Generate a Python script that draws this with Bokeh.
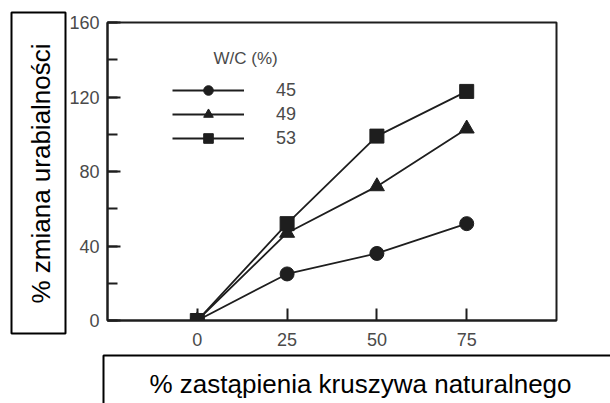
from bokeh.plotting import figure
from bokeh.models import (Label, Legend, LegendItem, SingleIntervalTicker,
                          FixedTicker)
from bokeh.core.properties import value
from bokeh.embed import file_html
from bokeh.resources import INLINE

# replacement level of natural aggregate (%)
replacement = [0, 25, 50, 75]
# workability change (%) for each water/cement ratio
wc_45 = [0, 25, 36, 52]
wc_49 = [0, 47, 72, 103]
wc_53 = [0, 52, 99, 123]
series_labels = ["45", "49", "53"]
legend_heading = "W/C (%)"
x_title = "% zastąpienia kruszywa naturalnego"
y_title = "% zmiana urabialności"

FONT = "Liberation Sans"
TICK_COLOR = "#4a4a4a"
INK = "#1e1e1e"

W, H = 610, 403
BORDER_L, BORDER_R, BORDER_T, BORDER_B = 107, 54, 22, 83
X_RANGE = (-25, 100)
Y_RANGE = (0, 160)

p = figure(width=W, height=H, x_range=X_RANGE, y_range=Y_RANGE,
           output_backend="svg", toolbar_location=None,
           min_border_left=BORDER_L, min_border_right=BORDER_R,
           min_border_top=BORDER_T, min_border_bottom=BORDER_B)
p.xgrid.visible = False
p.ygrid.visible = False
p.outline_line_color = INK
p.outline_line_width = 2
p.outline_line_alpha = 1
p.background_fill_color = "white"
p.border_fill_color = "white"

for ax in (p.xaxis[0], p.yaxis[0]):
    ax.axis_line_color = INK
    ax.axis_line_width = 2
    ax.major_tick_line_color = INK
    ax.major_tick_line_width = 2
    ax.minor_tick_line_color = INK
    ax.minor_tick_line_width = 2
    ax.major_tick_out = 0
    ax.minor_tick_out = 0
    ax.major_label_text_font = FONT
    ax.major_label_text_font_size = "18px"
    ax.major_label_text_color = TICK_COLOR

p.yaxis.ticker = SingleIntervalTicker(interval=40, num_minor_ticks=2)
p.yaxis.major_tick_in = 13
p.yaxis.minor_tick_in = 10
p.yaxis.major_label_standoff = 8
p.xaxis.ticker = FixedTicker(ticks=replacement, minor_ticks=[])
p.xaxis.major_tick_in = 12
p.xaxis.major_label_standoff = 12

renderers = []
for ys, marker, size in ((wc_45, "circle", 14), (wc_49, "triangle", 15),
                         (wc_53, "square", 14)):
    ln = p.line(replacement, ys, line_color=INK, line_width=1.8)
    sc = p.scatter(replacement, ys, marker=marker, size=size,
                   fill_color=INK, line_color=INK)
    renderers.append((ln, sc))

legend = Legend(
    items=[LegendItem(label=lab, renderers=list(r))
           for lab, r in zip(series_labels, renderers)],
    location=(65, 170), orientation="vertical",
    glyph_width=72, glyph_height=24, label_height=24, spacing=0,
    label_standoff=32, padding=0, margin=0,
    label_text_font=FONT, label_text_font_size="18px",
    label_text_color=TICK_COLOR, label_text_baseline="middle",
    border_line_color=None, background_fill_alpha=0,
)
p.add_layout(legend, "center")

# legend heading, in frame-relative screen units
p.add_layout(Label(x=106, y=262, x_units="screen", y_units="screen",
                   text=legend_heading, text_font=FONT, text_font_size="17px",
                   text_color=TICK_COLOR, text_baseline="middle"))

# boxed axis titles sit outside the frame; convert canvas pixels to
# data units so they can be drawn on the unclipped overlay level
fw = W - BORDER_L - BORDER_R
fh = H - BORDER_T - BORDER_B


def px_x(px):
    return X_RANGE[0] + (px - BORDER_L) / fw * (X_RANGE[1] - X_RANGE[0])


def px_y(py):
    return Y_RANGE[0] + (H - BORDER_B - py) / fh * (Y_RANGE[1] - Y_RANGE[0])


p.quad(left=[px_x(11)], right=[px_x(65)], top=[px_y(12)], bottom=[px_y(333)],
       fill_color=None, line_color="black", line_width=2, level="overlay")
p.text(x=[px_x(40)], y=[px_y(173)], text=[y_title], angle=90,
       angle_units="deg", text_align="center", text_baseline="middle",
       text_font=value(FONT), text_font_size="26px", text_color="black",
       level="overlay")

p.quad(left=[px_x(103)], right=[px_x(640)], top=[px_y(355)],
       bottom=[px_y(440)], fill_color=None, line_color="black",
       line_width=2, level="overlay")
p.text(x=[px_x(360)], y=[px_y(383)], text=[x_title], text_align="center",
       text_baseline="middle", text_font=value(FONT), text_font_size="26px",
       text_color="black", level="overlay")

open("out.html", "w").write(file_html(p, INLINE))
